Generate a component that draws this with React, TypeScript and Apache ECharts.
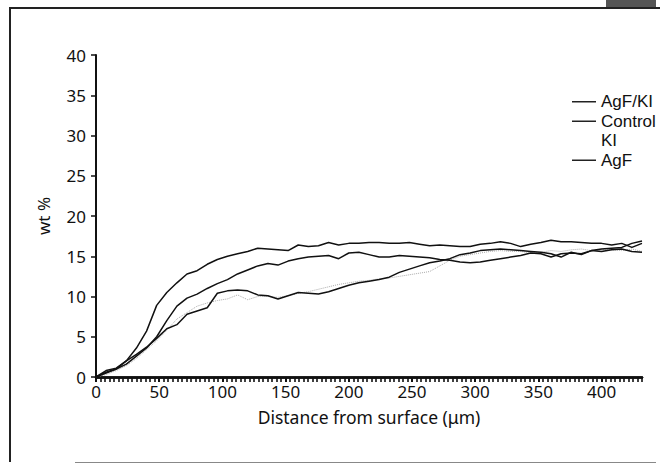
import React, { useEffect, useRef } from "react";
import * as echarts from "echarts";

const distance = [0, 8, 16, 24, 32, 40, 48, 56, 64, 72, 80, 88, 96, 104, 112, 120, 128, 136, 144, 152, 160, 168, 176, 184, 192, 200, 208, 216, 224, 232, 240, 248, 256, 264, 272, 280, 288, 296, 304, 312, 320, 328, 336, 344, 352, 360, 368, 376, 384, 392, 400, 408, 416, 424, 432];

const agfKi = [0, 0.5, 1.0, 2.0, 3.6, 5.7, 8.9, 10.5, 11.7, 12.8, 13.2, 14.0, 14.6, 15.0, 15.3, 15.6, 16.0, 15.9, 15.8, 15.7, 16.4, 16.2, 16.3, 16.7, 16.4, 16.6, 16.6, 16.7, 16.7, 16.6, 16.6, 16.7, 16.5, 16.3, 16.4, 16.3, 16.2, 16.2, 16.5, 16.6, 16.8, 16.6, 16.2, 16.5, 16.7, 17.0, 16.8, 16.8, 16.7, 16.6, 16.6, 16.4, 16.6, 16.1, 16.6];

const control = [0, 0.6, 1.0, 1.6, 2.6, 3.6, 5.0, 7.0, 8.8, 9.8, 10.3, 11.0, 11.6, 12.1, 12.8, 13.3, 13.8, 14.1, 13.9, 14.4, 14.7, 14.9, 15.0, 15.1, 14.7, 15.4, 15.5, 15.2, 14.9, 14.9, 15.1, 15.0, 14.9, 14.8, 14.6, 14.5, 14.3, 14.2, 14.3, 14.5, 14.7, 14.9, 15.1, 15.4, 15.3, 14.9, 15.3, 15.4, 15.3, 15.7, 15.6, 15.8, 15.9, 15.6, 15.5];

const ki = [0, 0.3, 0.8, 1.4, 2.3, 3.4, 4.5, 5.8, 7.2, 8.0, 8.8, 9.2, 9.5, 9.7, 10.2, 9.6, 10.0, 10.0, 9.9, 10.1, 10.4, 10.6, 10.9, 11.2, 11.5, 11.7, 11.9, 12.0, 12.2, 12.3, 12.5, 12.7, 12.9, 13.1, 13.8, 14.5, 15.0, 15.2, 15.4, 15.6, 15.7, 15.6, 15.6, 15.4, 15.5, 15.7, 15.6, 15.8, 15.9, 15.7, 15.8, 15.8, 15.7, 15.9, 15.6];

const agf = [0, 0.8, 1.1, 2.0, 2.8, 3.7, 4.8, 6.0, 6.5, 7.8, 8.2, 8.6, 10.4, 10.7, 10.8, 10.7, 10.2, 10.1, 9.7, 10.1, 10.5, 10.4, 10.3, 10.6, 11.0, 11.4, 11.7, 11.9, 12.1, 12.4, 13.0, 13.4, 13.8, 14.2, 14.4, 14.7, 15.2, 15.4, 15.7, 15.8, 15.9, 15.8, 15.7, 15.6, 15.5, 15.3, 14.9, 15.5, 15.2, 15.7, 15.9, 16.0, 16.1, 16.6, 16.9];

const xTicks = [0, 50, 100, 150, 200, 250, 300, 350, 400];
const yTicks = [0, 5, 10, 15, 20, 25, 30, 35, 40];

const seriesNames = ["AgF/KI", "Control", "KI", "AgF"];

const FONT = "Noto Sans";
const LEGEND_FONT = "Liberation Sans";

export default function App() {
  const ref = useRef<HTMLDivElement>(null);
  useEffect(() => {
    if (!ref.current) return;
    const chart = echarts.init(ref.current, undefined, { renderer: "svg" });
    const pair = (ys: number[]) => distance.map((d, i) => [d, ys[i]]);
    const solid = { color: "#111", width: 1.5, type: "solid" as const };
    chart.setOption({
      animation: false,
      backgroundColor: "#fff",
      grid: { left: 96, right: 18, top: 55, bottom: 89 },
      legend: {
        orient: "vertical",
        left: 572,
        top: 92,
        padding: 0,
        itemGap: 0,
        itemWidth: 24,
        itemHeight: 1.5,
        icon: "rect",
        data: seriesNames.map((n) =>
          n === "KI" ? { name: n, itemStyle: { opacity: 0 } } : { name: n, itemStyle: { color: "#222" } }
        ),
        textStyle: { fontFamily: LEGEND_FONT, fontSize: 17, color: "#111", lineHeight: 19.5 },
      },
      xAxis: [
        {
          type: "value",
          min: xTicks[0],
          max: 432,
          interval: 50,
          name: "Distance from surface (\u03bcm)",
          nameLocation: "middle",
          nameGap: 31,
          nameTextStyle: { fontFamily: FONT, fontSize: 17.5, color: "#111" },
          axisLine: { show: true, onZero: false, lineStyle: { color: "#111", width: 2.5 } },
          axisTick: { show: true, length: 5, lineStyle: { color: "#111", width: 2 } },
          axisLabel: {
            margin: 6,
            fontFamily: FONT,
            fontSize: 17,
            color: "#111",
            showMaxLabel: false,
            formatter: (v: number) => (xTicks.includes(v) ? String(v) : ""),
          },
          splitLine: { show: false },
        },
        {
          type: "value",
          position: "bottom",
          min: 0,
          max: 432,
          interval: 50 / 14,
          axisLine: { show: true, onZero: false, lineStyle: { color: "#111", width: 2.5 } },
          axisTick: { show: true, inside: false, length: 5, lineStyle: { color: "#111", width: 1.6 } },
          axisLabel: { show: false },
          splitLine: { show: false },
        },
      ],
      yAxis: {
        type: "value",
        min: yTicks[0],
        max: yTicks[yTicks.length - 1],
        interval: 5,
        name: "wt %",
        nameLocation: "middle",
        nameGap: 44,
        nameTextStyle: { fontFamily: FONT, fontSize: 17, color: "#111" },
        axisLine: { show: true, lineStyle: { color: "#111", width: 2 } },
        axisTick: { show: true, length: 5, lineStyle: { color: "#111", width: 1.5 } },
        axisLabel: { margin: 10, fontFamily: FONT, fontSize: 17, color: "#111" },
        splitLine: { show: false },
      },
      series: [
        { name: "AgF/KI", type: "line", data: pair(agfKi), symbol: "none", lineStyle: solid, itemStyle: { color: "#111" }, z: 3 },
        { name: "Control", type: "line", data: pair(control), symbol: "none", lineStyle: solid, itemStyle: { color: "#111" }, z: 3 },
        { name: "KI", type: "line", data: pair(ki), symbol: "none", lineStyle: { color: "#aaa", width: 1, type: "dotted" }, itemStyle: { color: "#ccc" }, z: 2 },
        { name: "AgF", type: "line", data: pair(agf), symbol: "none", lineStyle: solid, itemStyle: { color: "#111" }, z: 3 },
      ],
      graphic: [
        { type: "rect", left: 9, top: 7, shape: { width: 2, height: 455 }, style: { fill: "#222" }, z: 10 },
        { type: "rect", left: 9, top: 7, shape: { width: 651, height: 2 }, style: { fill: "#222" }, z: 10 },
        { type: "rect", left: 75, top: 462, shape: { width: 581, height: 1 }, style: { fill: "#888" }, z: 10 },
        { type: "rect", left: 606, top: 0, shape: { width: 50, height: 7 }, style: { fill: "#555" }, z: 10 },
      ],
    });
    return () => chart.dispose();
  }, []);
  return <div ref={ref} style={{ position: "absolute", left: 0, top: 0, width: 660, height: 466 }} />;
}
